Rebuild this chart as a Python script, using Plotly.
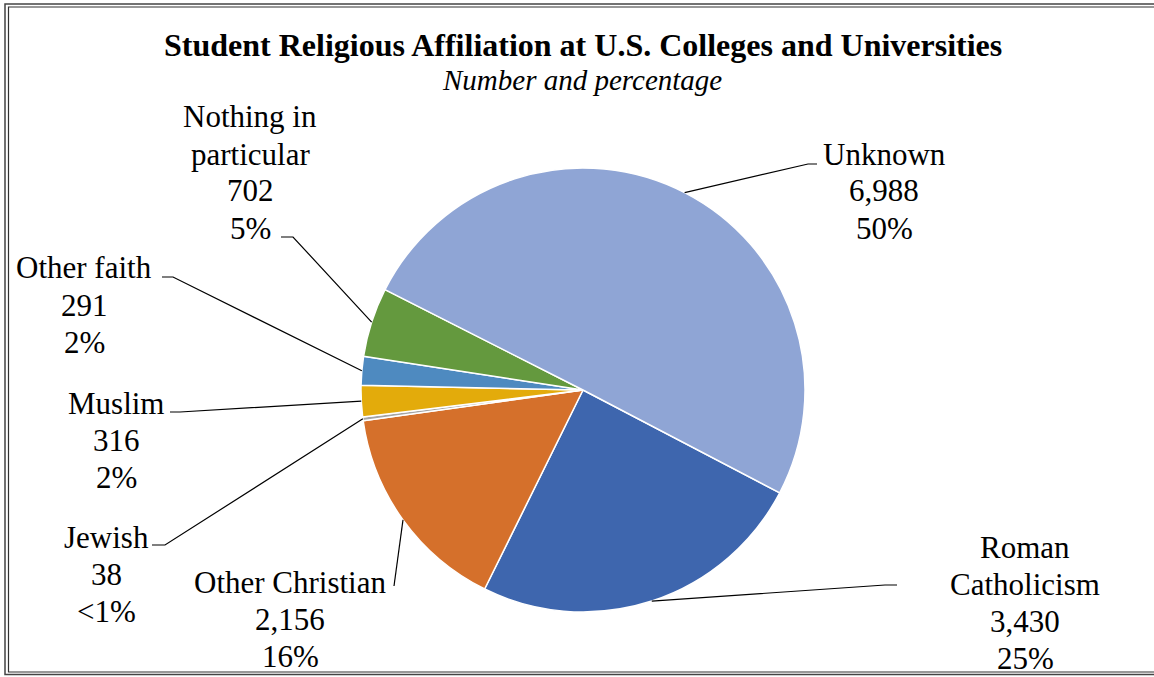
import math
import plotly.graph_objects as go

# ---------------- data ----------------
categories = ["Roman Catholicism", "Other Christian", "Jewish", "Muslim",
              "Other faith", "Nothing in particular", "Unknown"]
counts = [3430, 2156, 38, 316, 291, 702, 6988]
count_text = ["3,430", "2,156", "38", "316", "291", "702", "6,988"]
percent_text = ["25%", "16%", "<1%", "2%", "2%", "5%", "50%"]
name_lines = [["Roman", "Catholicism"], ["Other Christian"], ["Jewish"], ["Muslim"],
              ["Other faith"], ["Nothing in", "particular"], ["Unknown"]]
colors = ["#3E66AE", "#D5702B", "#A5A5A5", "#E3AB0B", "#4E8AC0", "#64993E", "#8FA5D5"]

title = "Student Religious Affiliation at U.S. Colleges and Universities"
subtitle = "Number and percentage"

# ---------------- layout constants ----------------
W, H = 1154, 677
CX, CY, R = 583, 390, 222
ROTATION = 117.6
FONT = "Liberation Serif, Times New Roman, serif"
LABEL_SIZE = 31
LINE_GAP = 37

# label placement (pixel centre of first line) and leader line bend/end points
label_pos = [(1025, 547), (290, 582), (106, 537), (116, 403), (84, 268), (250, 117), (884, 154)]
leader_bend = [(885, 585), (394, 586), (165, 545), (180, 412), (173, 277), (293, 237), (808, 164)]
leader_end = [(897, 585), (394, 586), (152, 545), (170, 412), (162, 277), (281, 237), (817, 164)]


def px(x):
    return x / W


def py(y):
    return 1 - y / H


fig = go.Figure(go.Pie(
    labels=categories,
    values=counts,
    sort=False,
    direction="clockwise",
    rotation=ROTATION,
    marker=dict(colors=colors, line=dict(color="white", width=1.5)),
    textinfo="none",
    hoverinfo="label+value+percent",
    domain=dict(x=[px(CX - R), px(CX + R)], y=[py(CY + R), py(CY - R)]),
    showlegend=False,
))

annotations = []
shapes = []

# title + subtitle
annotations.append(dict(text="<b>" + title + "</b>", x=px(583), y=py(45), xref="paper", yref="paper",
                        showarrow=False, xanchor="center", yanchor="middle",
                        font=dict(family=FONT, size=32, color="black")))
annotations.append(dict(text="<i>" + subtitle + "</i>", x=px(582), y=py(80), xref="paper", yref="paper",
                        showarrow=False, xanchor="center", yanchor="middle",
                        font=dict(family=FONT, size=29, color="black")))

total = sum(counts)
angle = ROTATION
for i, v in enumerate(counts):
    span = 360.0 * v / total
    mid = math.radians(angle + span / 2)
    angle += span
    # point on the pie edge at the slice mid-angle
    ex = CX + R * math.sin(mid)
    ey = CY - R * math.cos(mid)
    bx, by = leader_bend[i]
    tx, ty = leader_end[i]
    shapes.append(dict(type="path", xref="paper", yref="paper",
                       path=f"M {px(ex)},{py(ey)} L {px(bx)},{py(by)} L {px(tx)},{py(ty)}",
                       line=dict(color="black", width=1.2)))
    lines = name_lines[i] + [count_text[i], percent_text[i]]
    lx, ly = label_pos[i]
    for k, t in enumerate(lines):
        annotations.append(dict(text=t, x=px(lx), y=py(ly + k * LINE_GAP), xref="paper", yref="paper",
                                showarrow=False, xanchor="center", yanchor="middle",
                                font=dict(family=FONT, size=LABEL_SIZE, color="black")))

# double frame
shapes.append(dict(type="rect", xref="paper", yref="paper", x0=px(5), y0=py(674.5), x1=px(1170), y1=py(4),
                   line=dict(color="#444444", width=1.5), fillcolor="rgba(0,0,0,0)"))
shapes.append(dict(type="rect", xref="paper", yref="paper", x0=px(8.5), y0=py(672), x1=px(1170), y1=py(7),
                   line=dict(color="#333333", width=1.2), fillcolor="rgba(0,0,0,0)"))

fig.update_layout(
    width=W, height=H,
    margin=dict(l=0, r=0, t=0, b=0),
    paper_bgcolor="white", plot_bgcolor="white",
    annotations=annotations, shapes=shapes,
)

fig.write_html("out.html", config={"displayModeBar": False},
               post_script="document.body.style.margin='0';")
